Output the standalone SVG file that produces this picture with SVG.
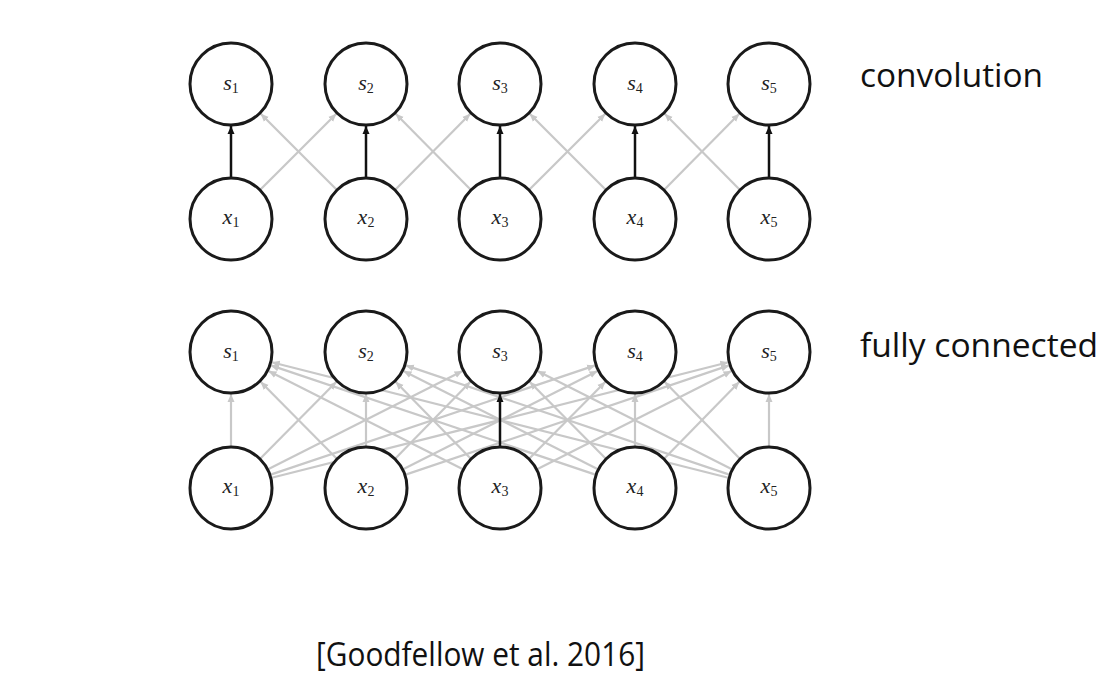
<svg xmlns="http://www.w3.org/2000/svg" width="1116" height="692" viewBox="0 0 1116 692">
<style>
.node{fill:#fff;stroke:#1a1a1a;stroke-width:3}
.lbl{font-family:"Liberation Serif",serif;font-style:italic;font-size:22px;fill:#222;text-anchor:middle}
.sub{font-style:normal;font-size:14px}
.g{stroke:#c8c8c8;stroke-width:2.2;fill:none;marker-end:url(#ag)}
.b{stroke:#111;stroke-width:2.5;fill:none;marker-end:url(#ab)}
.cap{font-family:"Open Sans","Liberation Sans",sans-serif;font-size:32px;fill:#111}
</style>
<defs>
<marker id="ag" markerUnits="userSpaceOnUse" markerWidth="10" markerHeight="10" refX="8" refY="5" orient="auto"><path d="M0,1.5 L8,5 L0,8.5 Z" fill="#c8c8c8"/></marker>
<marker id="ab" markerUnits="userSpaceOnUse" markerWidth="10" markerHeight="10" refX="8" refY="5" orient="auto"><path d="M0,1.5 L8,5 L0,8.5 Z" fill="#111"/></marker>
</defs>
<rect width="1116" height="692" fill="#fff"/>
<g id="connectors">
<line class="g" x1="260" y1="190" x2="336.3" y2="113.7"/>
<line class="g" x1="337" y1="190" x2="260.7" y2="113.7"/>
<line class="g" x1="395" y1="190" x2="470.3" y2="113.7"/>
<line class="g" x1="471" y1="190" x2="395.7" y2="113.7"/>
<line class="g" x1="529" y1="190" x2="605.3" y2="113.7"/>
<line class="g" x1="606" y1="190" x2="529.7" y2="113.7"/>
<line class="g" x1="664" y1="190" x2="739.3" y2="113.7"/>
<line class="g" x1="740" y1="190" x2="664.7" y2="113.7"/>
<line class="b" x1="231" y1="178" x2="231" y2="126"/>
<line class="b" x1="366" y1="178" x2="366" y2="126"/>
<line class="b" x1="500" y1="178" x2="500" y2="126"/>
<line class="b" x1="635" y1="178" x2="635" y2="126"/>
<line class="b" x1="769" y1="178" x2="769" y2="126"/>
<line class="g" x1="231" y1="447" x2="231" y2="394"/>
<line class="g" x1="259.9" y1="458.9" x2="336.4" y2="381.8"/>
<line class="g" x1="267.6" y1="469.6" x2="462.5" y2="370.9"/>
<line class="g" x1="269.9" y1="474.9" x2="595.2" y2="365.4"/>
<line class="g" x1="270.8" y1="478" x2="728.3" y2="362.3"/>
<line class="g" x1="337.1" y1="458.9" x2="260.6" y2="381.8"/>
<line class="g" x1="366" y1="447" x2="366" y2="394"/>
<line class="g" x1="394.9" y1="458.9" x2="470.4" y2="381.8"/>
<line class="g" x1="402.6" y1="469.6" x2="597.5" y2="370.9"/>
<line class="g" x1="404.9" y1="474.9" x2="729.2" y2="365.4"/>
<line class="g" x1="463.4" y1="469.6" x2="268.5" y2="370.9"/>
<line class="g" x1="471.1" y1="458.9" x2="395.6" y2="381.8"/>
<line class="g" x1="528.9" y1="458.9" x2="605.4" y2="381.8"/>
<line class="g" x1="536.6" y1="469.6" x2="731.5" y2="370.9"/>
<line class="g" x1="596.1" y1="474.9" x2="270.8" y2="365.4"/>
<line class="g" x1="598.4" y1="469.6" x2="403.5" y2="370.9"/>
<line class="g" x1="606.1" y1="458.9" x2="529.6" y2="381.8"/>
<line class="g" x1="635" y1="447" x2="635" y2="394"/>
<line class="g" x1="663.9" y1="458.9" x2="739.4" y2="381.8"/>
<line class="g" x1="729.2" y1="478" x2="271.7" y2="362.3"/>
<line class="g" x1="730.1" y1="474.9" x2="405.8" y2="365.4"/>
<line class="g" x1="732.4" y1="469.6" x2="537.5" y2="370.9"/>
<line class="g" x1="740.1" y1="458.9" x2="664.6" y2="381.8"/>
<line class="g" x1="769" y1="447" x2="769" y2="394"/>
<line class="b" x1="500" y1="447" x2="500" y2="394"/>
</g>
<g id="conv-s1"><circle class="node" cx="231" cy="84" r="41"/><text class="lbl" x="231" y="90">s<tspan class="sub" dy="3">1</tspan></text></g>
<g id="conv-s2"><circle class="node" cx="366" cy="84" r="41"/><text class="lbl" x="366" y="90">s<tspan class="sub" dy="3">2</tspan></text></g>
<g id="conv-s3"><circle class="node" cx="500" cy="84" r="41"/><text class="lbl" x="500" y="90">s<tspan class="sub" dy="3">3</tspan></text></g>
<g id="conv-s4"><circle class="node" cx="635" cy="84" r="41"/><text class="lbl" x="635" y="90">s<tspan class="sub" dy="3">4</tspan></text></g>
<g id="conv-s5"><circle class="node" cx="769" cy="84" r="41"/><text class="lbl" x="769" y="90">s<tspan class="sub" dy="3">5</tspan></text></g>
<g id="conv-x1"><circle class="node" cx="231" cy="219" r="41"/><text class="lbl" x="231" y="224">x<tspan class="sub" dy="3">1</tspan></text></g>
<g id="conv-x2"><circle class="node" cx="366" cy="219" r="41"/><text class="lbl" x="366" y="224">x<tspan class="sub" dy="3">2</tspan></text></g>
<g id="conv-x3"><circle class="node" cx="500" cy="219" r="41"/><text class="lbl" x="500" y="224">x<tspan class="sub" dy="3">3</tspan></text></g>
<g id="conv-x4"><circle class="node" cx="635" cy="219" r="41"/><text class="lbl" x="635" y="224">x<tspan class="sub" dy="3">4</tspan></text></g>
<g id="conv-x5"><circle class="node" cx="769" cy="219" r="41"/><text class="lbl" x="769" y="224">x<tspan class="sub" dy="3">5</tspan></text></g>
<g id="fc-s1"><circle class="node" cx="231" cy="352" r="41"/><text class="lbl" x="231" y="358">s<tspan class="sub" dy="3">1</tspan></text></g>
<g id="fc-s2"><circle class="node" cx="366" cy="352" r="41"/><text class="lbl" x="366" y="358">s<tspan class="sub" dy="3">2</tspan></text></g>
<g id="fc-s3"><circle class="node" cx="500" cy="352" r="41"/><text class="lbl" x="500" y="358">s<tspan class="sub" dy="3">3</tspan></text></g>
<g id="fc-s4"><circle class="node" cx="635" cy="352" r="41"/><text class="lbl" x="635" y="358">s<tspan class="sub" dy="3">4</tspan></text></g>
<g id="fc-s5"><circle class="node" cx="769" cy="352" r="41"/><text class="lbl" x="769" y="358">s<tspan class="sub" dy="3">5</tspan></text></g>
<g id="fc-x1"><circle class="node" cx="231" cy="488" r="41"/><text class="lbl" x="231" y="493">x<tspan class="sub" dy="3">1</tspan></text></g>
<g id="fc-x2"><circle class="node" cx="366" cy="488" r="41"/><text class="lbl" x="366" y="493">x<tspan class="sub" dy="3">2</tspan></text></g>
<g id="fc-x3"><circle class="node" cx="500" cy="488" r="41"/><text class="lbl" x="500" y="493">x<tspan class="sub" dy="3">3</tspan></text></g>
<g id="fc-x4"><circle class="node" cx="635" cy="488" r="41"/><text class="lbl" x="635" y="493">x<tspan class="sub" dy="3">4</tspan></text></g>
<g id="fc-x5"><circle class="node" cx="769" cy="488" r="41"/><text class="lbl" x="769" y="493">x<tspan class="sub" dy="3">5</tspan></text></g>
<text class="cap" x="860" y="87" textLength="183" lengthAdjust="spacingAndGlyphs">convolution</text>
<text class="cap" x="860" y="357" textLength="238" lengthAdjust="spacingAndGlyphs">fully connected</text>
<text class="cap" x="316" y="666" textLength="329" lengthAdjust="spacingAndGlyphs">[Goodfellow et al. 2016]</text>
</svg>
